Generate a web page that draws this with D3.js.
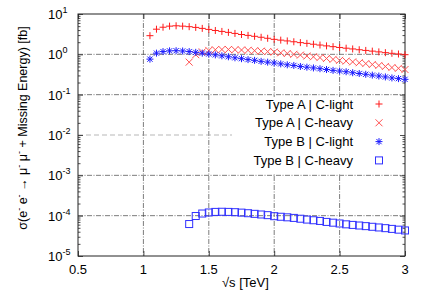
<!DOCTYPE html>
<html>
<head>
<meta charset="utf-8">
<script src="https://cdn.jsdelivr.net/npm/d3@7"></script>
<style>
  body { margin: 0; background: #fff; }
  svg { font-family: "Liberation Sans", Arial, sans-serif; }
</style>
</head>
<body>
<script>
// chart data
const energyLight = [1.05,1.10,1.15,1.20,1.25,1.30,1.35,1.40,1.45,1.50,1.55,1.60,1.65,1.70,1.75,1.80,1.85,1.90,1.95,2.00,
                     2.05,2.10,2.15,2.20,2.25,2.30,2.35,2.40,2.45,2.50,2.55,2.60,2.65,2.70,2.75,2.80,2.85,2.90,2.95,3.00];
const energyHeavy = [1.35,1.40,1.45,1.50,1.55,1.60,1.65,1.70,1.75,1.80,1.85,1.90,1.95,2.00,
                     2.05,2.10,2.15,2.20,2.25,2.30,2.35,2.40,2.45,2.50,2.55,2.60,2.65,2.70,2.75,2.80,2.85,2.90,2.95,3.00];

const typeALight = [2.9,4.2,4.7,5.0,5.1,5.0,4.85,4.65,4.4,4.15,3.9,3.7,3.5,3.3,3.1,2.95,2.8,2.65,2.5,2.35,
                    2.25,2.15,2.05,1.95,1.87,1.78,1.70,1.62,1.55,1.48,1.42,1.36,1.30,1.25,1.20,1.15,1.10,1.06,1.02,0.98];
const typeAHeavy = [0.64,0.98,1.15,1.25,1.30,1.32,1.32,1.30,1.28,1.26,1.23,1.20,1.17,1.14,
                    1.09,1.05,1.00,0.96,0.91,0.87,0.83,0.79,0.75,0.71,0.68,0.65,0.62,0.59,0.56,0.53,0.50,0.47,0.45,0.42];
const typeBLight = [0.76,1.07,1.17,1.22,1.23,1.21,1.17,1.12,1.07,1.02,0.97,0.92,0.87,0.82,0.78,0.74,0.71,0.67,0.64,0.61,
                    0.58,0.55,0.53,0.50,0.48,0.46,0.44,0.42,0.40,0.385,0.37,0.35,0.335,0.32,0.305,0.29,0.275,0.26,0.25,0.24];
const typeBHeavy = [6.2e-5,9.8e-5,1.13e-4,1.2e-4,1.24e-4,1.25e-4,1.24e-4,1.22e-4,1.19e-4,1.15e-4,1.11e-4,1.07e-4,1.03e-4,9.7e-5,
                    9.4e-5,9.1e-5,8.8e-5,8.4e-5,8.0e-5,7.7e-5,7.4e-5,7.0e-5,6.7e-5,6.4e-5,6.1e-5,5.9e-5,5.7e-5,5.5e-5,5.3e-5,5.1e-5,4.9e-5,4.7e-5,4.5e-5,4.3e-5];

const xTicks = [0.5, 1, 1.5, 2, 2.5, 3];
const xTickLabels = ["0.5", "1", "1.5", "2", "2.5", "3"];
const yExponents = [1, 0, -1, -2, -3, -4, -5];
const legendLabels = ["Type A | C-light", "Type A | C-heavy", "Type B | C-light", "Type B | C-heavy"];

const width = 425, height = 297;
const margin = {left: 78, right: 20, top: 14, bottom: 41};

const svg = d3.select("body").append("svg")
              .attr("width", width)
              .attr("height", height);

const x = d3.scaleLinear().domain([0.5, 3]).range([margin.left, width - margin.right]);
const y = d3.scaleLog().domain([1e-5, 10]).range([height - margin.bottom, margin.top]);

// grid
const grid = svg.append("g").attr("stroke", "#444").attr("stroke-width", 0.7)
                .attr("stroke-dasharray", "5,1.5,1,1.5");
grid.selectAll(".gx").data(xTicks.slice(1, -1)).enter().append("line")
    .attr("x1", d => x(d)).attr("x2", d => x(d))
    .attr("y1", y(10)).attr("y2", y(1e-5));
grid.selectAll(".gy").data(yExponents.slice(1, -1)).enter().append("line")
    .attr("x1", x(0.5)).attr("x2", x(3))
    .attr("y1", d => y(Math.pow(10, d))).attr("y2", d => y(Math.pow(10, d)))
    .attr("stroke", d => d === -2 ? "#999" : null)
    .attr("stroke-dasharray", d => d === -2 ? "5,3" : null);

// legend background
svg.append("rect").attr("x", 232).attr("y", 97).attr("width", x(3) - 232 - 1).attr("height", 77)
   .attr("fill", "#fff");

// axes
const minorY = [];
for (let e = -5; e < 1; e++) for (let m = 2; m < 10; m++) minorY.push(m * Math.pow(10, e));

const axisLeft = svg.append("g").attr("transform", `translate(${margin.left},0)`)
   .call(d3.axisLeft(y).tickValues(yExponents.map(e => Math.pow(10, e))).tickSize(-5).tickFormat(""));
const axisLeftMinor = svg.append("g").attr("transform", `translate(${margin.left},0)`)
   .call(d3.axisLeft(y).tickValues(minorY).tickSize(-2.5).tickFormat(""));
const axisRight = svg.append("g").attr("transform", `translate(${x(3)},0)`)
   .call(d3.axisRight(y).tickValues(yExponents.map(e => Math.pow(10, e))).tickSize(-5).tickFormat(""));
const axisRightMinor = svg.append("g").attr("transform", `translate(${x(3)},0)`)
   .call(d3.axisRight(y).tickValues(minorY).tickSize(-2.5).tickFormat(""));
const axisBottom = svg.append("g").attr("transform", `translate(0,${y(1e-5)})`)
   .call(d3.axisBottom(x).tickValues(xTicks).tickSize(-5).tickFormat(""));
const axisTop = svg.append("g").attr("transform", `translate(0,${y(10)})`)
   .call(d3.axisTop(x).tickValues(xTicks).tickSize(-5).tickFormat(""));
svg.selectAll(".domain").remove();
svg.selectAll(".tick line").attr("stroke", "#222").attr("stroke-width", 0.8);

svg.append("rect").attr("x", x(0.5)).attr("y", y(10))
   .attr("width", x(3) - x(0.5)).attr("height", y(1e-5) - y(10))
   .attr("fill", "none").attr("stroke", "#222").attr("stroke-width", 1);

// tick labels
svg.append("g").selectAll("text").data(xTicks).enter().append("text")
   .attr("x", d => x(d)).attr("y", y(1e-5) + 18)
   .attr("text-anchor", "middle").attr("font-size", 13)
   .text((d, i) => xTickLabels[i]);

const yl = svg.append("g").selectAll("text").data(yExponents).enter().append("text")
   .attr("x", 48).attr("y", d => y(Math.pow(10, d)) + 5)
   .attr("font-size", 13);
yl.append("tspan").text("10");
yl.append("tspan").attr("dy", -6).attr("font-size", 9).text(d => String(d));

// axis titles
svg.append("text").attr("x", x(1.78)).attr("y", 287).attr("text-anchor", "middle")
   .attr("font-size", 13).text("√s [TeV]");

const yt = svg.append("text").attr("transform", "translate(27,128) rotate(-90)")
   .attr("text-anchor", "middle").attr("font-size", 12.5);
yt.append("tspan").text("σ(e");
yt.append("tspan").attr("dy", -5).attr("font-size", 9).text("-");
yt.append("tspan").attr("dy", 5).text(" e");
yt.append("tspan").attr("dy", -5).attr("font-size", 9).text("-");
yt.append("tspan").attr("dy", 5).text(" → μ");
yt.append("tspan").attr("dy", -5).attr("font-size", 9).text("-");
yt.append("tspan").attr("dy", 5).text(" μ");
yt.append("tspan").attr("dy", -5).attr("font-size", 9).text("-");
yt.append("tspan").attr("dy", 5).text(" + Missing Energy) [fb]");

// markers
const s = 3.5;
const drawPlus = (g, px, py, c) => g.append("path").attr("d", `M${px - s},${py}H${px + s}M${px},${py - s}V${py + s}`)
                                    .attr("stroke", c).attr("stroke-width", 1).attr("fill", "none");
const drawCross = (g, px, py, c) => g.append("path").attr("d", `M${px - s},${py - s}L${px + s},${py + s}M${px - s},${py + s}L${px + s},${py - s}`)
                                     .attr("stroke", c).attr("stroke-width", 1).attr("fill", "none");
const drawStar = (g, px, py, c) => g.append("path").attr("d", `M${px - s},${py}H${px + s}M${px},${py - s}V${py + s}M${px - s * 0.75},${py - s * 0.75}L${px + s * 0.75},${py + s * 0.75}M${px - s * 0.75},${py + s * 0.75}L${px + s * 0.75},${py - s * 0.75}`)
                                    .attr("stroke", c).attr("stroke-width", 1).attr("fill", "none");
const drawSquare = (g, px, py, c) => g.append("rect").attr("x", px - s).attr("y", py - s).attr("width", 2 * s).attr("height", 2 * s)
                                      .attr("stroke", c).attr("stroke-width", 1).attr("fill", "none");

const series = [
  {xs: energyLight, ys: typeALight, draw: drawPlus, color: "#ff1a1a"},
  {xs: energyHeavy, ys: typeAHeavy, draw: drawCross, color: "#ff5050"},
  {xs: energyLight, ys: typeBLight, draw: drawStar, color: "#1a1aff"},
  {xs: energyHeavy, ys: typeBHeavy, draw: drawSquare, color: "#3030ff"}
];

const marks = svg.append("g");
series.forEach(sr => {
  sr.xs.forEach((e, i) => sr.draw(marks, x(e), y(sr.ys[i]), sr.color));
});

// legend
const legend = svg.append("g");
legendLabels.forEach((lab, i) => {
  const ly = 104 + i * 18.8;
  legend.append("text").attr("x", 353).attr("y", ly + 4.5).attr("text-anchor", "end")
        .attr("font-size", 13).text(lab);
  series[i].draw(legend, 379, ly, series[i].color);
});
</script>
</body>
</html>
